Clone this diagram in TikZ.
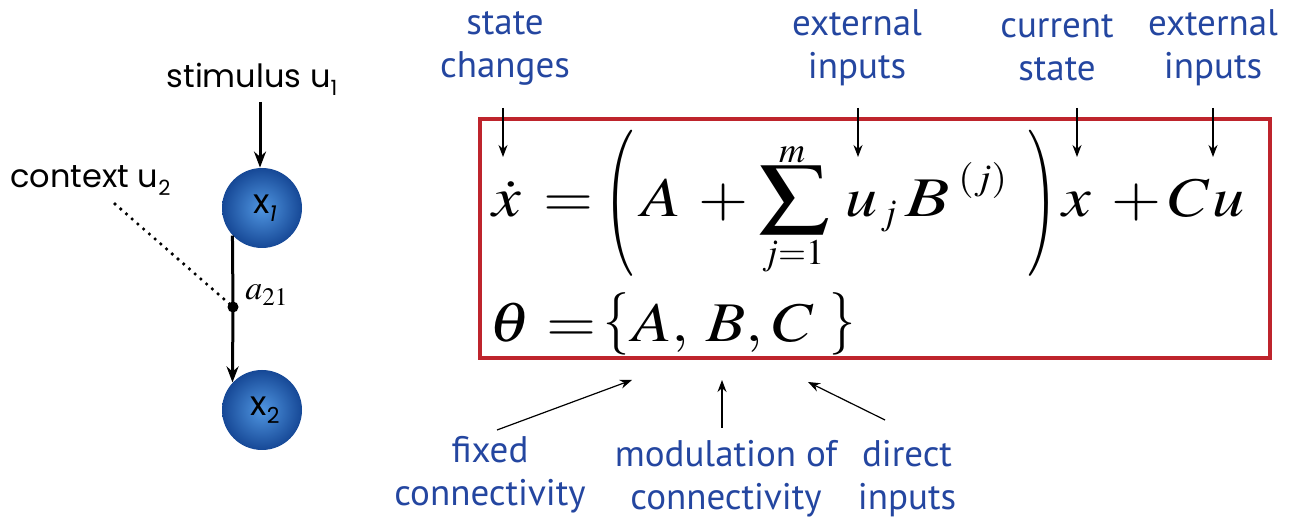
\documentclass[tikz,border=0pt]{standalone}
\usepackage{mathptmx}
\usepackage{graphicx}
\usepackage[no-math]{fontspec}
\newfontfamily\lblfont{PT Sans}
\newfontfamily\geofont{Poppins}
\usetikzlibrary{arrows.meta}
\definecolor{lblblue}{RGB}{36,70,160}
\definecolor{boxred}{RGB}{190,36,44}
\newcommand{\eqs}[1]{\scalebox{1.15}[1]{$#1$}}
\begin{document}
\begin{tikzpicture}[x=0.5pt,y=-0.5pt,
  lbl/.style={font=\lblfont\fontsize{18.5}{21.5}\selectfont, text=lblblue, align=center, inner sep=0},
  geo/.style={font=\geofont\fontsize{16}{18}\selectfont, inner sep=0},
  ball/.style={circle, minimum size=40pt, inner sep=0, shading=radial,
    inner color={rgb,255:red,80;green,150;blue,225}, outer color={rgb,255:red,22;green,72;blue,150},
    font=\geofont\fontsize{17}{18}\selectfont},
  arr/.style={-{Stealth[length=6pt,width=4.5pt]}, line width=0.6pt},
  thickarr/.style={-{Stealth[length=8pt,width=6pt]}, line width=1.5pt},
  eq/.style={font=\fontsize{28}{32}\selectfont, inner sep=0, anchor=base west},
  eqs/.style={font=\fontsize{18}{20}\selectfont, inner sep=0}]
\useasboundingbox (0,0) rectangle (1295,522);

% left network
\node[ball] (x1) at (262,208) {\hspace{3pt}x\raisebox{-0.4ex}{\fontsize{11}{11}\selectfont\itshape 1}};
\node[ball] (x2) at (262,410) {\hspace{3pt}x\raisebox{-0.4ex}{\fontsize{11}{11}\selectfont 2}};
\node[geo, anchor=base] (stim) at (252,88) {stimulus u\raisebox{-0.4ex}{\fontsize{10.5}{10}\selectfont 1}};
\node[geo, anchor=base west] (ctx) at (10,188) {context u\raisebox{-0.4ex}{\fontsize{10.5}{10}\selectfont 2}};
\coordinate (dot) at (233,307);
\coordinate (ctxend) at (115,204);
\coordinate (stimtop) at (260,102);
\draw[thickarr] (stimtop) -- (stimtop |- x1.north);
\draw[line width=1.5pt] (x1.223) -- (dot);
\draw[thickarr] (dot) -- (x2.137);
\fill (dot) circle (5.5);
\draw[line width=1.8pt, line cap=round, dash pattern=on 0pt off 3.8pt] (ctxend) -- (dot);
\node[font=\fontsize{17}{17}\selectfont, anchor=base west, inner sep=0] (a21) at (245,300) {$a_{21}$};

% box
\node[draw=boxred, line width=2pt, minimum width=395pt, minimum height=119.5pt, inner sep=0] (box) at (875,238.5) {};

% equation line 1 (baseline y=217)
\node[eq] (xd) at (492,217) {\eqs{\dot{x}}};
\node[eq] (eqa) at (543,217) {\eqs{=}};
\node[inner sep=0] (lp) at (619,203) {\resizebox*{15pt}{73pt}{$\Bigl($}};
\node[eq] (tA) at (641,217) {\eqs{A}};
\node[eq] (pl1) at (698,217) {\eqs{+}};
\node[inner sep=0] (sig) at (794,200) {\resizebox*{36pt}{34pt}{$\sum$}};
\node[eqs] (sm) at (792,155) {$m$};
\node[eqs] (sj) at (793,256) {$j{=}1$};
\node[eq] (tu) at (845,217) {\eqs{u}};
\node[eqs, anchor=base west] (tj) at (880,225) {$j$};
\node[eq] (tB) at (905,217) {\scalebox{1.3}[1]{$B$}};
\node[eqs, anchor=base west] (tBj) at (958,190) {\scalebox{1.1}[1]{$(j)$}};
\node[inner sep=0] (rp) at (1042,203) {\resizebox*{15pt}{73pt}{$\Bigr)$}};
\node[eq] (tx) at (1062,217) {\eqs{x}};
\node[eq] (pl2) at (1111,217) {\eqs{+}};
\node[eq] (tC) at (1168,217) {\eqs{C}};
\node[eq] (tu2) at (1212,217) {\eqs{u}};

% equation line 2 (baseline y=342)
\node[eq] (th) at (489,342) {\eqs{\theta}};
\node[eq] (eqb) at (546,342) {\eqs{=}};
\node[inner sep=0] (lb) at (616,324) {\resizebox*{13pt}{31pt}{$\{$}};
\node[eq] (t2A) at (632,342) {\eqs{A,}};
\node[eq] (t2B) at (706,342) {\eqs{B,}};
\node[eq] (t2C) at (772,342) {\eqs{C}};
\node[inner sep=0] (rb) at (842,324) {\resizebox*{13pt}{31pt}{$\}$}};

% top labels
\node[lbl] (l1) at (505,48) {state\\changes};
\node[lbl] (l2) at (857,48) {external\\inputs};
\node[lbl] (l3) at (1057,48) {current\\state};
\node[lbl] (l4) at (1213,48) {external\\inputs};
\coordinate (t1) at (503,108); \coordinate (e1) at (503,157);
\coordinate (t2) at (858,108); \coordinate (e2) at (858,157);
\coordinate (t3) at (1077,108); \coordinate (e3) at (1077,157);
\coordinate (t4) at (1213,108); \coordinate (e4) at (1213,157);
\draw[arr] (t1) -- (e1);
\draw[arr] (t2) -- (e2);
\draw[arr] (t3) -- (e3);
\draw[arr] (t4) -- (e4);

% bottom labels
\node[lbl] (b1) at (490,475) {fixed\\connectivity};
\node[lbl] (b2) at (726,479) {modulation of\\connectivity};
\node[lbl] (b3) at (907,479) {direct\\inputs};
\coordinate (s1) at (497,430); \coordinate (f1) at (632,380);
\coordinate (s2) at (722,428); \coordinate (f2) at (722,380);
\coordinate (s3) at (885,420); \coordinate (f3) at (808,382);
\draw[arr] (s1) -- (f1);
\draw[arr] (s2) -- (f2);
\draw[arr] (s3) -- (f3);
\end{tikzpicture}
\end{document}
